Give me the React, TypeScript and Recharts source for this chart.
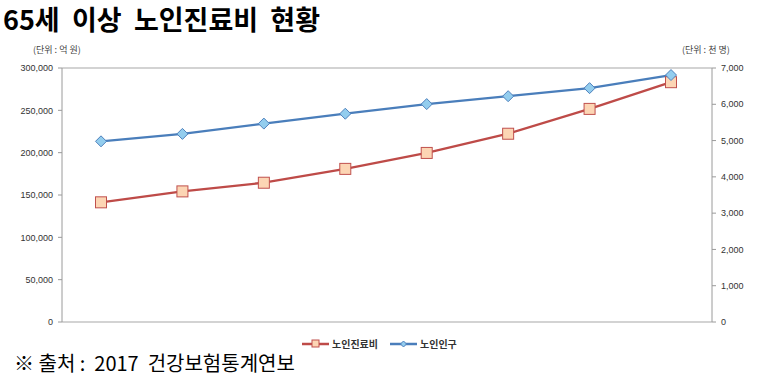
import React from 'react';
import { LineChart, Line, XAxis, YAxis, CartesianGrid } from 'recharts';

// 2010 ~ 2017
const years = ['2010', '2011', '2012', '2013', '2014', '2015', '2016', '2017'];
// 노인진료비 (억 원)
const medicalCost = [141350, 154260, 164494, 180852, 199687, 222361, 251692, 283247];
// 노인인구 (천 명)
const elderlyPop = [4979, 5184, 5468, 5740, 6005, 6223, 6445, 6806];

const leftTicks = [0, 50000, 100000, 150000, 200000, 250000, 300000];
const rightTicks = [0, 1000, 2000, 3000, 4000, 5000, 6000, 7000];

const seriesNames = ['노인진료비', '노인인구'];

const data = years.map((y, i) => ({ year: y, cost: medicalCost[i], pop: elderlyPop[i] }));

const RED = '#be4b48';
const BLUE = '#4a7ebb';
const font = '"Liberation Sans", "Noto Sans CJK KR", sans-serif';
const krFont = '"Noto Sans CJK KR", sans-serif';

const SquareDot = (props: any) => {
  const { cx, cy } = props;
  if (cx == null || cy == null) return null;
  return <rect x={cx - 5.5} y={cy - 5.5} width={11} height={11} fill="#fcd5b4" stroke="#c0504d" strokeWidth={1} />;
};

const DiamondDot = (props: any) => {
  const { cx, cy } = props;
  if (cx == null || cy == null) return null;
  return (
    <polygon
      points={`${cx},${cy - 5.5} ${cx + 5.5},${cy} ${cx},${cy + 5.5} ${cx - 5.5},${cy}`}
      fill="#93cdee"
      stroke="#4f81bd"
      strokeWidth={1}
    />
  );
};

const fmt = (v: number) => v.toLocaleString('en-US');

export default function App() {
  const tickStyle = { fontSize: 9, fill: '#333', fontFamily: font };
  return (
    <div style={{ position: 'absolute', left: 0, top: 0, width: 778, height: 378, background: '#fff', fontFamily: font }}>
      <div style={{ position: 'absolute', left: 3, top: 0, fontSize: 27, fontWeight: 'bold', color: '#000', whiteSpace: 'pre', fontFamily: krFont, lineHeight: '38px' }}>
        {'65세  이상  노인진료비  현황'}
      </div>
      <div style={{ position: 'absolute', left: 33, top: 43, fontSize: 9, color: '#444', whiteSpace: 'pre', fontFamily: krFont }}>(단위 : 억 원)</div>
      <div style={{ position: 'absolute', left: 682, top: 43, fontSize: 9, color: '#444', whiteSpace: 'pre', fontFamily: krFont }}>(단위 : 천 명)</div>

      <LineChart width={778} height={378} data={data} margin={{ top: 68, right: 0, bottom: 56, left: 0 }}>
        <CartesianGrid vertical={false} stroke="#a8a8a8" strokeWidth={1.2} />
        <XAxis dataKey="year" hide padding={{ left: 39, right: 41 }} />
        <YAxis
          yAxisId="left"
          orientation="left"
          width={62}
          domain={[0, 300000]}
          ticks={leftTicks}
          tickFormatter={fmt}
          tick={tickStyle}
          tickSize={4}
          tickMargin={5}
          stroke="#9a9a9a"
          interval={0}
        />
        <YAxis
          yAxisId="right"
          orientation="right"
          width={66}
          domain={[0, 7000]}
          ticks={rightTicks}
          tickFormatter={fmt}
          tick={{ ...tickStyle, textAnchor: 'start' }}
          tickSize={4}
          tickMargin={5}
          stroke="#9a9a9a"
          interval={0}
        />
        <Line
          yAxisId="left"
          dataKey="cost"
          name={seriesNames[0]}
          stroke={RED}
          strokeWidth={2.3}
          dot={<SquareDot />}
          isAnimationActive={false}
        />
        <Line
          yAxisId="right"
          dataKey="pop"
          name={seriesNames[1]}
          stroke={BLUE}
          strokeWidth={2.3}
          dot={<DiamondDot />}
          isAnimationActive={false}
        />
      </LineChart>

      <div style={{ position: 'absolute', left: 302, top: 336, display: 'flex', alignItems: 'center', fontSize: 10, fontWeight: 'bold', color: '#333', fontFamily: krFont }}>
        <svg width={27} height={12}>
          <line x1={0} y1={6} x2={27} y2={6} stroke={RED} strokeWidth={2.5} />
          <rect x={10} y={2} width={7} height={7} fill="#fcd5b4" stroke="#c0504d" />
        </svg>
        <span style={{ marginLeft: 3 }}>{seriesNames[0]}</span>
        <svg width={27} height={12} style={{ marginLeft: 12 }}>
          <line x1={0} y1={6} x2={27} y2={6} stroke={BLUE} strokeWidth={2.5} />
          <polygon points="13.5,3 16.5,6 13.5,9 10.5,6" fill="#93cdee" stroke="#4f81bd" />
        </svg>
        <span style={{ marginLeft: 3 }}>{seriesNames[1]}</span>
      </div>

      <div style={{ position: 'absolute', left: 14, top: 349, fontSize: 20, color: '#000', whiteSpace: 'pre', fontFamily: krFont, lineHeight: '28px' }}>
        {'※ 출처 :  2017  건강보험통계연보'}
      </div>
    </div>
  );
}
